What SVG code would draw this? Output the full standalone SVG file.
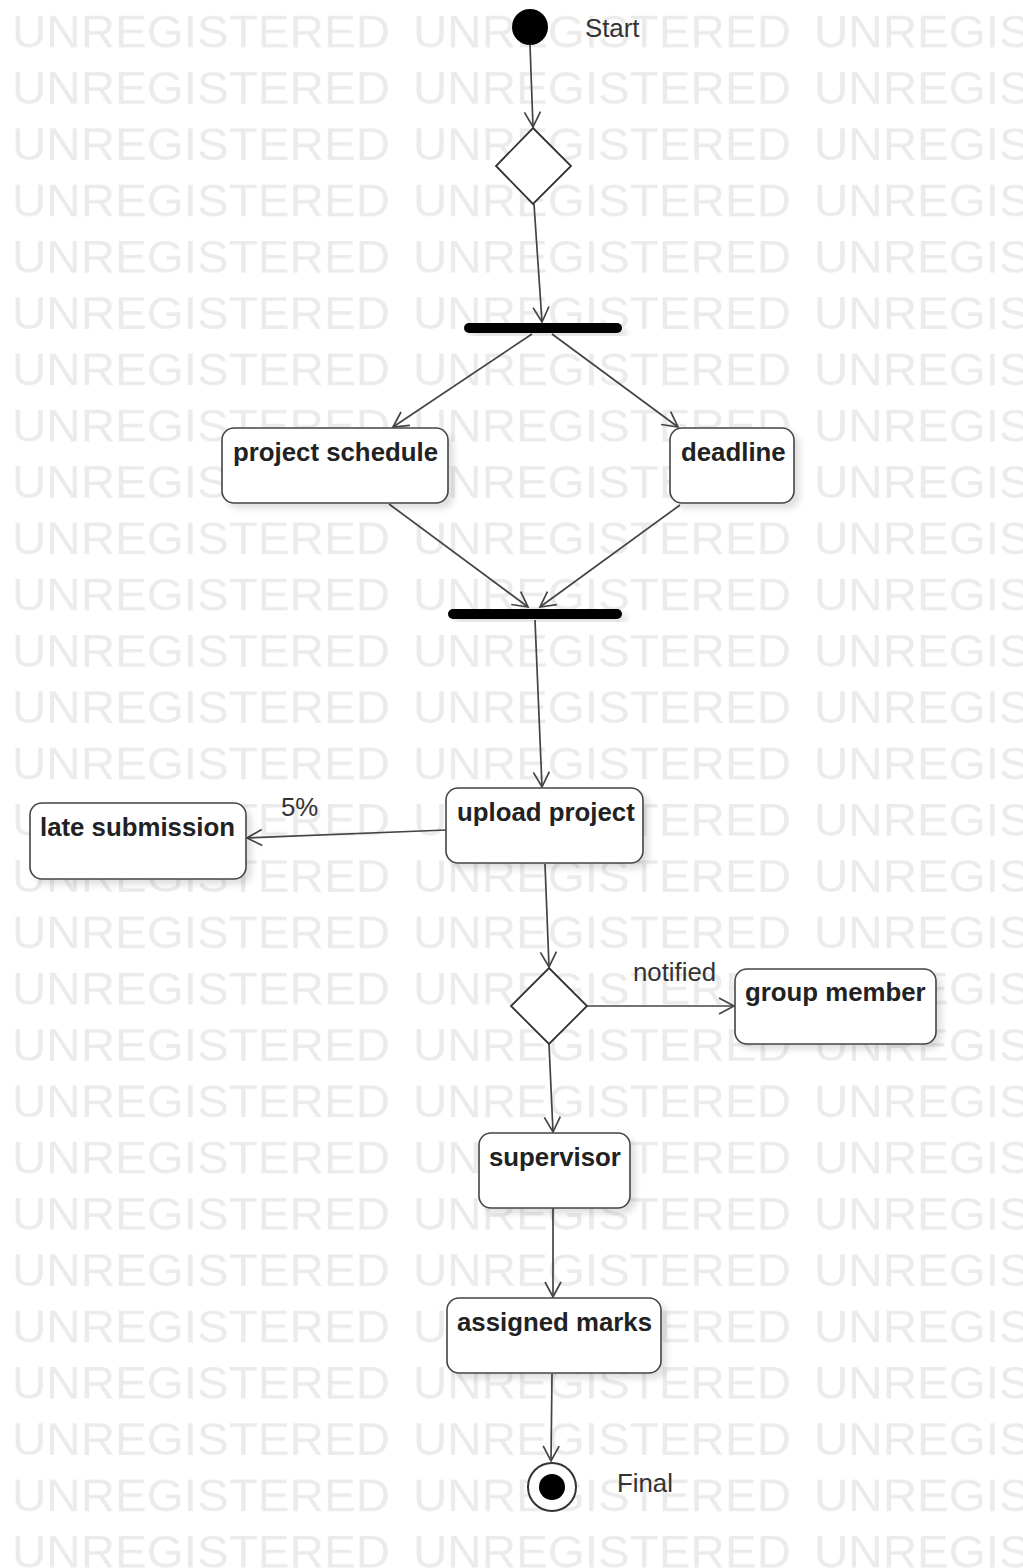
<svg xmlns="http://www.w3.org/2000/svg" width="1023" height="1568" viewBox="0 0 1023 1568">
<style>
.box{fill:#fff;stroke:#444;stroke-width:1.6;filter:url(#sh)}
.lbl{font-family:"Liberation Sans",Arial,sans-serif;font-weight:bold;font-size:25.8px;fill:#222}
.note{font-family:"Liberation Sans",Arial,sans-serif;font-size:25.8px;fill:#333}
.wm{font-family:"Liberation Sans",Arial,sans-serif;font-size:45px;fill:#ebebeb}
.con path{fill:none;stroke:#444;stroke-width:1.7;marker-end:url(#arr)}
.dia{fill:#fff;stroke:#333;stroke-width:1.8}
</style>
<defs>
<pattern id="wmp" x="0" y="0" width="401" height="56.3" patternUnits="userSpaceOnUse">
<text class="wm" x="12" y="47" textLength="378" lengthAdjust="spacingAndGlyphs">UNREGISTERED</text>
</pattern>
<filter id="sh" x="-10%" y="-10%" width="130%" height="140%">
<feDropShadow dx="5" dy="5" stdDeviation="3" flood-color="#000" flood-opacity="0.12"/>
</filter>
<marker id="arr" markerUnits="userSpaceOnUse" markerWidth="20" markerHeight="20" viewBox="-16 -10 20 20" refX="0" refY="0" orient="auto">
<path d="M-15,-8 L0,0 L-15,8" fill="none" stroke="#444" stroke-width="1.7"/>
</marker>
</defs>
<rect width="1023" height="1568" fill="#fff"/>
<rect width="1023" height="1568" fill="url(#wmp)"/>

<g id="connectors" class="con">
<path d="M530,45 L533,127"/>
<path d="M534,204 L542,322"/>
<path d="M532,334 L393,427"/>
<path d="M552,334 L678,427"/>
<path d="M389,504 L528,607"/>
<path d="M680,505 L540,607"/>
<path d="M535,620 L542,787"/>
<path d="M446,830 L247,838"/>
<path d="M545,864 L549,967"/>
<path d="M587,1006 L734,1006"/>
<path d="M549,1044 L553,1132"/>
<path d="M553,1208 L553,1297"/>
<path d="M552,1374 L551,1461"/>
</g>

<g id="start"><circle cx="530" cy="27" r="18" fill="#000"/><text class="note" x="585" y="37">Start</text></g>
<g id="decision1"><polygon class="dia" points="533,128 571,166 533,204 496,166"/></g>
<g id="fork"><rect x="464" y="323" width="158" height="10" rx="5" fill="#000" filter="url(#sh)"/></g>
<g id="project-schedule"><rect class="box" x="222" y="428" width="226" height="75" rx="12"/><text class="lbl" x="233" y="461">project schedule</text></g>
<g id="deadline"><rect class="box" x="670" y="428" width="124" height="75" rx="12"/><text class="lbl" x="681" y="461">deadline</text></g>
<g id="join"><rect x="448" y="609" width="174" height="10" rx="5" fill="#000" filter="url(#sh)"/></g>
<g id="upload-project"><rect class="box" x="446" y="788" width="197" height="75" rx="12"/><text class="lbl" x="457" y="821">upload project</text></g>
<g id="late-submission"><rect class="box" x="30" y="803" width="216" height="76" rx="12"/><text class="lbl" x="40" y="836">late submission</text></g>
<g id="label-5"><text class="note" x="281" y="816">5%</text></g>
<g id="decision2"><polygon class="dia" points="549,968 587,1006 549,1044 511,1006"/></g>
<g id="label-notified"><text class="note" x="633" y="981">notified</text></g>
<g id="group-member"><rect class="box" x="735" y="969" width="201" height="75" rx="12"/><text class="lbl" x="745" y="1001">group member</text></g>
<g id="supervisor"><rect class="box" x="479" y="1133" width="151" height="75" rx="12"/><text class="lbl" x="489" y="1166">supervisor</text></g>
<g id="assigned-marks"><rect class="box" x="447" y="1298" width="214" height="75" rx="12"/><text class="lbl" x="457" y="1331">assigned marks</text></g>
<g id="final"><circle cx="552" cy="1487" r="24" fill="#fff" stroke="#333" stroke-width="2"/><circle cx="552" cy="1487" r="13" fill="#000"/><text class="note" x="617" y="1492">Final</text></g>
</svg>
